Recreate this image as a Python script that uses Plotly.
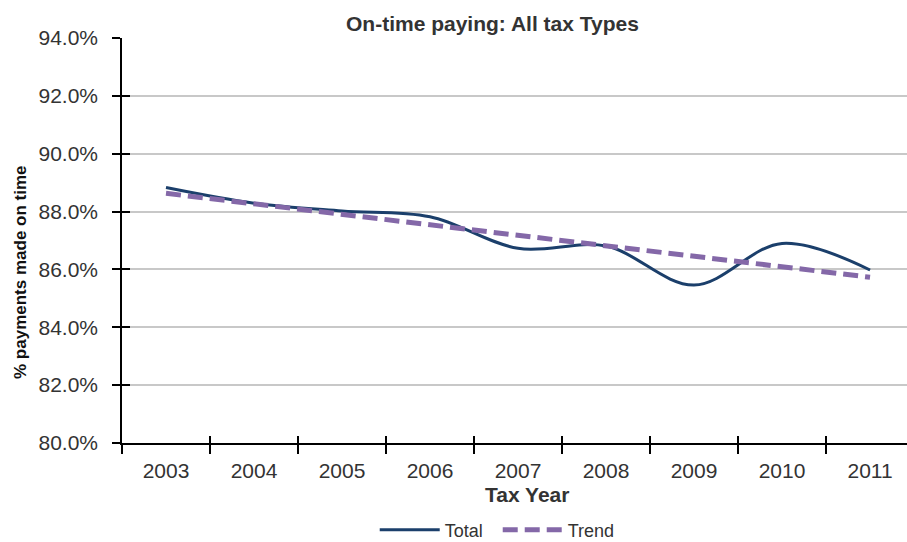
import plotly.graph_objects as go

years = ["2003", "2004", "2005", "2006", "2007", "2008", "2009", "2010", "2011"]
total = [88.83, 88.29, 88.02, 87.82, 86.73, 86.81, 85.46, 86.90, 85.98]
trend = [88.63, 88.27, 87.90, 87.54, 87.18, 86.82, 86.46, 86.09, 85.73]
y_ticks = [80, 82, 84, 86, 88, 90, 92, 94]

xpos = list(range(len(years)))
half = [i - 0.5 for i in range(len(years) + 1)]

FONT = "Liberation Sans, Arial, sans-serif"
TXT = "#333333"

fig = go.Figure()
fig.add_trace(go.Scatter(
    x=xpos, y=total, name="Total", mode="lines",
    line=dict(color="#1B3F6B", width=3, shape="spline", smoothing=1.0),
))
fig.add_trace(go.Scatter(
    x=xpos, y=trend, name="Trend", mode="lines",
    line=dict(color="#8468A8", width=5, dash="15px,7px"),
))
# helper trace so the overlay axes (inner tick halves) render
fig.add_trace(go.Scatter(x=[None], y=[None], xaxis="x2", yaxis="y2",
                         showlegend=False, hoverinfo="skip"))

xr = [-0.5, 8.42]
yr = [80, 94]

fig.update_layout(
    width=907, height=542,
    margin=dict(l=122, r=0, t=38, b=99, autoexpand=False),
    paper_bgcolor="white", plot_bgcolor="white",
    font=dict(family=FONT, color=TXT, size=21),
    showlegend=True,
    legend=dict(orientation="h", x=292 / 907, xanchor="left",
                y=(443 - 530) / 405, yanchor="middle",
                font=dict(size=18, color=TXT), itemwidth=60,
                entrywidth=48,
                tracegroupgap=0, bgcolor="rgba(0,0,0,0)"),
    xaxis=dict(
        range=xr, tickmode="array", tickvals=xpos, ticktext=years,
        ticks="", showgrid=False, zeroline=False,
        showline=True, linecolor="black", linewidth=1.5,
        tickfont=dict(size=21, color=TXT), ticklabelstandoff=8,
        minor=dict(tickmode="array", tickvals=half, ticks="outside",
                   ticklen=9, tickwidth=1.5, tickcolor="black", showgrid=False),
        fixedrange=True,
    ),
    yaxis=dict(
        range=yr, tickmode="array", tickvals=y_ticks,
        ticktext=[f"{v:.1f}%" for v in y_ticks],
        ticks="outside", ticklen=8, tickwidth=1.5, tickcolor="black",
        showgrid=True, gridcolor="#C8C8C8", gridwidth=1.5, zeroline=False,
        showline=True, linecolor="black", linewidth=1.5,
        tickfont=dict(size=21, color=TXT), ticklabelstandoff=10,
        fixedrange=True,
    ),
    xaxis2=dict(
        overlaying="x", anchor="y", side="bottom", range=xr,
        tickmode="array", tickvals=half, ticks="inside", ticklen=7,
        tickwidth=1.5, tickcolor="black", showticklabels=False,
        showgrid=False, zeroline=False, showline=False, fixedrange=True,
    ),
    yaxis2=dict(
        overlaying="y", anchor="x", side="left", range=yr,
        tickmode="array", tickvals=y_ticks, ticks="inside", ticklen=8,
        tickwidth=1.5, tickcolor="black", showticklabels=False,
        showgrid=False, zeroline=False, showline=False, fixedrange=True,
    ),
    annotations=[
        dict(text="<b>On-time paying: All tax Types</b>", xref="paper", yref="paper",
             x=(492 - 122) / 785, y=(443 - 23) / 405, xanchor="center", yanchor="middle",
             showarrow=False, font=dict(size=21, color=TXT)),
        dict(text="<b>Tax Year</b>", xref="paper", yref="paper",
             x=(527 - 122) / 785, y=(443 - 494) / 405, xanchor="center", yanchor="middle",
             showarrow=False, font=dict(size=21, color=TXT)),
        dict(text="<b>% payments made on time</b>", xref="paper", yref="paper",
             x=(20 - 122) / 785, y=(443 - 272) / 405, xanchor="center", yanchor="middle",
             textangle=-90, showarrow=False, font=dict(size=17, color="#111111")),
    ],
)

fig.write_html("out.html")
